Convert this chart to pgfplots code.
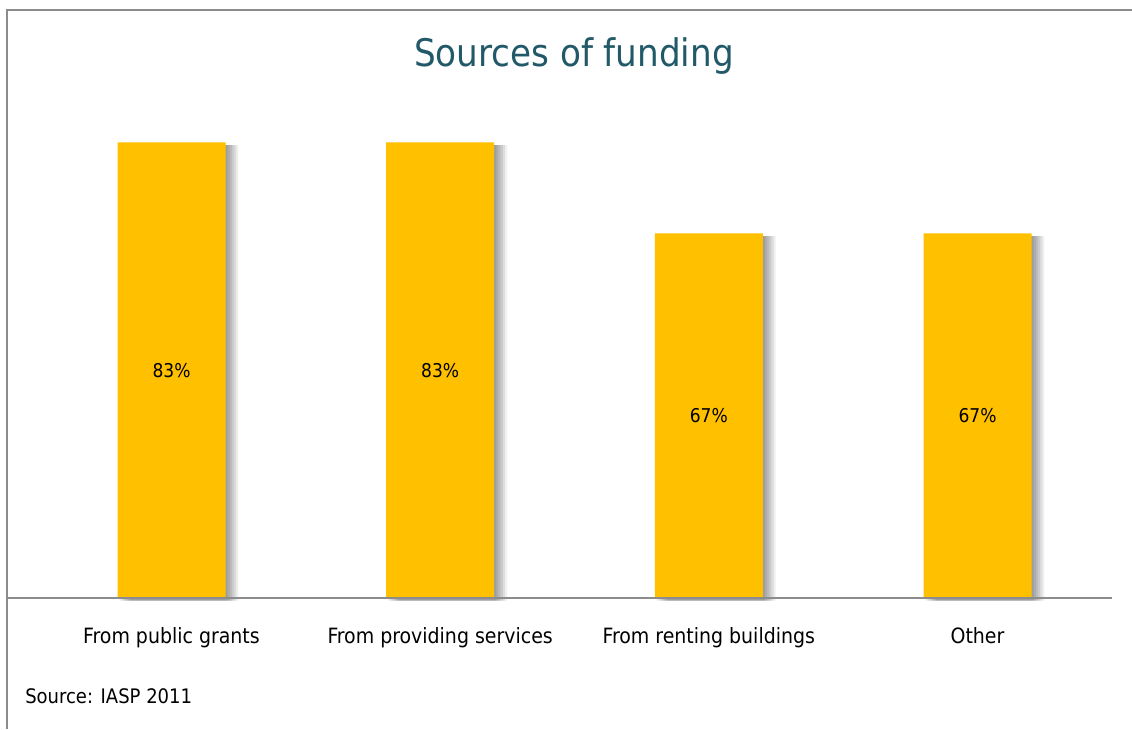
\documentclass[border=0pt]{standalone}
\usepackage{fontspec}
\setmainfont{DejaVu Sans Condensed}
\usepackage{pgfplots}
\usepackage{pgfplotstable}
\pgfplotsset{compat=1.18}
\definecolor{bargold}{HTML}{FFC000}
\definecolor{titleteal}{HTML}{215968}
\definecolor{framegray}{HTML}{8C8C8C}
\pgfplotstableread{
x y lab
0 83.33 83\%
1 83.33 83\%
2 66.67 67\%
3 66.67 67\%
}\fundtable
\begin{document}
\begin{tikzpicture}
\useasboundingbox[fill=white] (0,0) rectangle (849pt,546.75pt);
\draw[framegray, line width=1.5pt] (5.25pt,0) -- (5.25pt,539.25pt) -- (849pt,539.25pt);
\node[titleteal, font=\fontsize{28.5pt}{34pt}\selectfont, anchor=base] at (430.5pt,496.5pt) {Sources of funding};
\node[font=\fontsize{15pt}{18pt}\selectfont, anchor=base west, inner sep=0pt] at (18.75pt,19.5pt) {Source: IASP 2011};
\begin{axis}[
  at={(6pt,98.25pt)}, anchor=south west,
  scale only axis, width=828pt, height=410.1pt,
  xmin=-0.6086, xmax=3.5006, ymin=0, ymax=100,
  axis x line=bottom, axis y line=none,
  x axis line style={-, framegray, line width=1.5pt},
  axis on top=true,
  xtick={0,1,2,3},
  xticklabels={From public grants, From providing services, From renting buildings, Other},
  xtick style={draw=none},
  ytick=\empty,
  xticklabel style={font=\fontsize{15.8pt}{19pt}\selectfont, anchor=base, inner sep=0pt, yshift=-30pt},
  ybar, bar width=0.402,
  clip=false,
]
\addplot[fill=black, fill opacity=0.06, draw=none, bar shift=0.048, yshift=-2pt] table[x=x,y=y] {\fundtable};
\addplot[fill=black, fill opacity=0.08, draw=none, bar shift=0.040, yshift=-2pt] table[x=x,y=y] {\fundtable};
\addplot[fill=black, fill opacity=0.08, draw=none, bar shift=0.032, yshift=-2pt] table[x=x,y=y] {\fundtable};
\addplot[fill=black, fill opacity=0.08, draw=none, bar shift=0.024, yshift=-2pt] table[x=x,y=y] {\fundtable};
\addplot[fill=black, fill opacity=0.08, draw=none, bar shift=0.016, yshift=-2pt] table[x=x,y=y] {\fundtable};
\addplot[fill=black, fill opacity=0.08, draw=none, bar shift=0.008, yshift=-2pt] table[x=x,y=y] {\fundtable};
\addplot[fill=bargold, draw=none, bar shift=0] table[x=x,y=y] {\fundtable};
\addplot[ybar=0pt, draw=none, fill=none, bar shift=0, bar width=0.01,
  nodes near coords, point meta=explicit symbolic,
  every node near coord/.style={anchor=center, text=black, font=\fontsize{14.25pt}{17pt}\selectfont}]
  table[x=x, y expr=\thisrow{y}/2, meta=lab] {\fundtable};
\end{axis}
\end{tikzpicture}
\end{document}
